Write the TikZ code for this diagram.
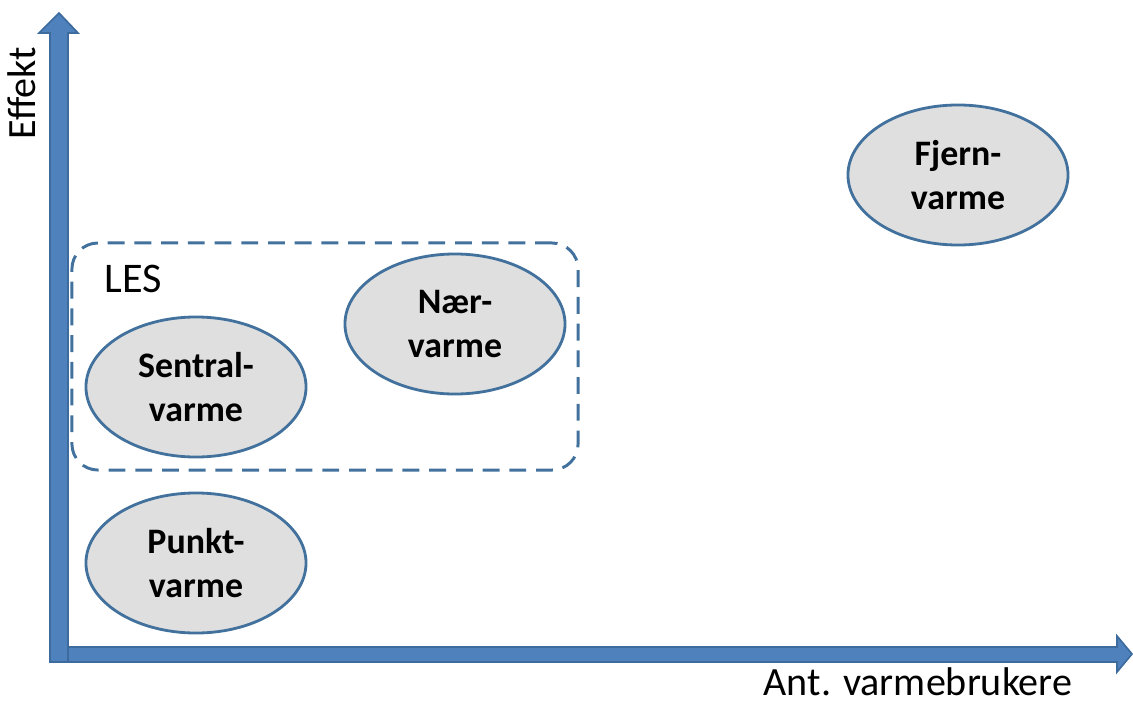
\documentclass[tikz,border=0pt]{standalone}
\usepackage{fontspec}
\setmainfont{Carlito}
\usetikzlibrary{shapes.geometric,calc}
\definecolor{axisfill}{HTML}{4F81BD}
\definecolor{axisline}{HTML}{3D6B9E}
\definecolor{ringline}{HTML}{41719C}
\definecolor{ringfill}{HTML}{DFDFDF}
\begin{document}
\begin{tikzpicture}
[x=0.025cm,y=-0.025cm,%
  axisdecorate/.style={fill=axisfill,draw=axisline,line width=1.2pt,line join=miter},%
  ringdecorate/.style={ellipse,draw=ringline,fill=ringfill,line width=2pt,
    minimum width=5.5cm,minimum height=3.5cm,inner sep=0pt,align=center,
    font=\fontsize{25.5}{31}\selectfont\bfseries},%
  lesdecorate/.style={draw=ringline,line width=2.1pt,dash pattern=on 12pt off 7pt,
    rounded corners=0.65cm,minimum width=12.65cm,minimum height=5.675cm,inner sep=0pt},%
  labeldecorate/.style={font=\fontsize{28.5}{32}\selectfont,inner sep=0pt}]
\useasboundingbox (0,0) rectangle (1133,704);
%% axes
\coordinate (origin) at (59,654);
\coordinate (ytip) at (59,13);
\coordinate (xtip) at (1132,654);
\draw[axisdecorate] ($(origin)+(-9,-7)$) -- ($(xtip)+(-15,-7)$)
  -- ($(xtip)+(-15,-18)$) -- (xtip) -- ($(xtip)+(-15,18)$)
  -- ($(xtip)+(-15,8)$) -- ($(origin)+(-9,8)$) -- cycle;
\draw[axisdecorate] ($(origin)+(-9,8)$) -- ($(ytip)+(-9,20)$)
  -- ($(ytip)+(-20,20)$) -- (ytip) -- ($(ytip)+(19,20)$)
  -- ($(ytip)+(9,20)$) -- ($(origin)+(9,8)$) -- cycle;
\node (ylabel) at (22,93) [labeldecorate,rotate=90] {Effekt};
\node (xlabel) at (918,695) [labeldecorate,anchor=base] {Ant. varmebrukere};
%% LES box
\node (lesbox) at (325,356.5) [lesdecorate] {};
\node (leslabel) at (104,292) [anchor=base west,inner sep=0pt,
  font=\fontsize{30}{36}\selectfont] {LES};
%% nodes or vertices
\foreach \nodename/\first/\x/\y in {fjern/Fjern/958/175, naer/Nær/455/324,
  sentral/Sentral/196/387, punkt/Punkt/196/563} {
  \node (\nodename) at (\x,\y) [ringdecorate] {\first-\\varme};
}
\end{tikzpicture}
\end{document}
